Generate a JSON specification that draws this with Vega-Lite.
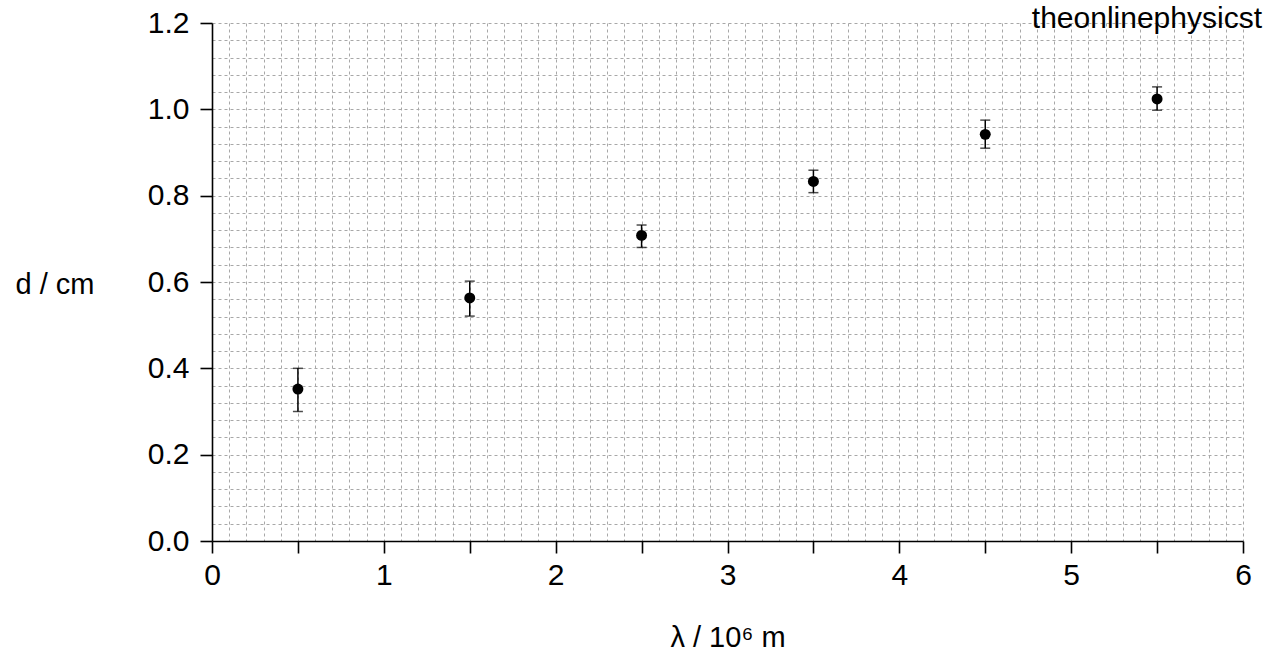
{
  "$schema": "https://vega.github.io/schema/vega-lite/v6.json",
  "width": 1031,
  "height": 518,
  "autosize": {"type": "none"},
  "padding": {"left": 212, "top": 23, "right": 20, "bottom": 114},
  "background": "white",
  "config": {
    "view": {"stroke": null},
    "font": "Liberation Sans"
  },
  "title": {
    "text": "theonlinephysicst",
    "anchor": "end",
    "frame": "group",
    "orient": "top",
    "offset": -50,
    "dx": 19,
    "baseline": "alphabetic",
    "font": "Liberation Sans",
    "fontSize": 30,
    "fontWeight": "normal",
    "color": "black"
  },
  "data": {
    "values": [
      {"lambda": 0.5, "d": 0.352, "lo": 0.300, "hi": 0.400},
      {"lambda": 1.5, "d": 0.563, "lo": 0.521, "hi": 0.602},
      {"lambda": 2.5, "d": 0.708, "lo": 0.680, "hi": 0.732},
      {"lambda": 3.5, "d": 0.833, "lo": 0.807, "hi": 0.859},
      {"lambda": 4.5, "d": 0.942, "lo": 0.910, "hi": 0.975},
      {"lambda": 5.5, "d": 1.024, "lo": 0.998, "hi": 1.052}
    ]
  },
  "encoding": {
    "x": {
      "field": "lambda",
      "type": "quantitative",
      "scale": {"domain": [0, 6], "nice": false, "zero": false},
      "axis": {
        "title": "λ / 10⁶ m",
        "titleFont": "Liberation Sans",
        "titleFontSize": 29,
        "titleFontWeight": "normal",
        "titleColor": "black",
        "titleY": 96,
        "titleBaseline": "middle",
        "values": [0,0.1,0.2,0.3,0.4,0.5,0.6,0.7,0.8,0.9,1,1.1,1.2,1.3,1.4,1.5,1.6,1.7,1.8,1.9,2,2.1,2.2,2.3,2.4,2.5,2.6,2.7,2.8,2.9,3,3.1,3.2,3.3,3.4,3.5,3.6,3.7,3.8,3.9,4,4.1,4.2,4.3,4.4,4.5,4.6,4.7,4.8,4.9,5,5.1,5.2,5.3,5.4,5.5,5.6,5.7,5.8,5.9,6],
        "labelExpr": "abs(datum.value - round(datum.value)) < 1e-6 ? format(datum.value, 'd') : ''",
        "labelOverlap": false,
        "labelFlush": false,
        "labelFont": "Liberation Sans",
        "labelFontSize": 30,
        "labelColor": "black",
        "labelPadding": 7,
        "grid": true,
        "gridColor": "#a8a8a8",
        "gridDash": [3, 3],
        "gridWidth": 1,
        "domainColor": "black",
        "domainWidth": 1.6,
        "tickColor": "black",
        "tickWidth": 1.6,
        "tickSize": 12,
        "tickOpacity": {"condition": {"test": "abs(datum.value*2 - round(datum.value*2)) < 1e-6", "value": 1}, "value": 0}
      }
    },
    "y": {
      "field": "d",
      "type": "quantitative",
      "scale": {"domain": [0, 1.2], "nice": false},
      "axis": {
        "title": "d / cm",
        "titleFont": "Liberation Sans",
        "titleFontSize": 29,
        "titleFontWeight": "normal",
        "titleColor": "black",
        "titleAngle": 0,
        "titleAlign": "left",
        "titleBaseline": "middle",
        "titleX": -197,
        "titleY": 261,
        "values": [0,0.04,0.08,0.12,0.16,0.2,0.24,0.28,0.32,0.36,0.4,0.44,0.48,0.52,0.56,0.6,0.64,0.68,0.72,0.76,0.8,0.84,0.88,0.92,0.96,1,1.04,1.08,1.12,1.16,1.2],
        "labelExpr": "abs(datum.value*5 - round(datum.value*5)) < 1e-6 ? format(datum.value, '.1f') : ''",
        "labelOverlap": false,
        "labelFlush": false,
        "labelFont": "Liberation Sans",
        "labelFontSize": 30,
        "labelColor": "black",
        "labelPadding": 11,
        "grid": true,
        "gridColor": "#a8a8a8",
        "gridDash": [3, 3],
        "gridWidth": 1,
        "domainColor": "black",
        "domainWidth": 1.6,
        "tickColor": "black",
        "tickWidth": 1.6,
        "tickSize": 12,
        "tickOpacity": {"condition": {"test": "abs(datum.value*5 - round(datum.value*5)) < 1e-6", "value": 1}, "value": 0}
      }
    }
  },
  "layer": [
    {
      "mark": {"type": "rule", "color": "black", "strokeWidth": 1.5},
      "encoding": {
        "y": {"field": "lo", "type": "quantitative"},
        "y2": {"field": "hi"}
      }
    },
    {
      "mark": {"type": "tick", "orient": "horizontal", "color": "black", "size": 10, "thickness": 1.5},
      "encoding": {
        "y": {"field": "lo", "type": "quantitative"}
      }
    },
    {
      "mark": {"type": "tick", "orient": "horizontal", "color": "black", "size": 10, "thickness": 1.5},
      "encoding": {
        "y": {"field": "hi", "type": "quantitative"}
      }
    },
    {
      "mark": {"type": "circle", "color": "black", "opacity": 1, "size": 120}
    }
  ]
}
